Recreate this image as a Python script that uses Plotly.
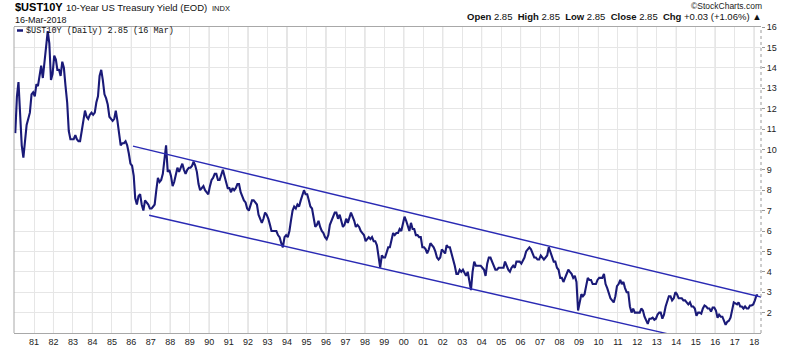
import plotly.graph_objects as go

# 10-Year US Treasury yield (%), monthly readings per calendar year
y1980 = [10.8, 12.6, 13.3, 11.4, 10.2, 9.6, 10.3, 11.2, 11.5, 11.8, 12.7, 12.8]
y1981 = [12.6, 13.2, 13.1, 13.7, 14.1, 13.5, 14.3, 15.0, 15.8, 15.2, 13.4, 13.7]
y1982 = [14.6, 14.4, 13.9, 13.9, 13.6, 14.3, 14.0, 13.1, 12.3, 10.9, 10.5, 10.5]
y1983 = [10.5, 10.7, 10.5, 10.4, 10.4, 10.9, 11.4, 11.9, 11.6, 11.5, 11.7, 11.8]
y1984 = [11.7, 11.8, 12.3, 12.6, 13.6, 13.9, 13.4, 12.7, 12.5, 12.2, 11.6, 11.5]
y1985 = [11.4, 11.5, 11.9, 11.4, 10.8, 10.2, 10.3, 10.3, 10.4, 10.2, 9.8, 9.3]
y1986 = [9.2, 8.7, 7.6, 7.3, 7.7, 7.8, 7.3, 7.0, 7.5, 7.4, 7.3, 7.1]
y1987 = [7.1, 7.2, 7.3, 8.0, 8.6, 8.4, 8.5, 8.8, 9.4, 10.2, 8.9, 9.0]
y1988 = [8.7, 8.2, 8.4, 8.7, 9.1, 8.9, 9.1, 9.3, 9.0, 8.8, 9.0, 9.1]
y1989 = [9.1, 9.2, 9.4, 9.2, 8.9, 8.3, 8.0, 8.1, 8.2, 8.0, 7.9, 7.8]
y1990 = [8.2, 8.5, 8.6, 8.8, 8.8, 8.5, 8.5, 8.8, 9.0, 8.7, 8.4, 8.1]
y1991 = [8.1, 7.9, 8.1, 8.0, 8.1, 8.3, 8.3, 7.9, 7.7, 7.5, 7.4, 7.1]
y1992 = [7.0, 7.3, 7.5, 7.5, 7.4, 7.3, 6.8, 6.6, 6.4, 6.6, 6.9, 6.8]
y1993 = [6.6, 6.3, 6.0, 6.0, 6.0, 6.0, 5.8, 5.7, 5.4, 5.2, 5.7, 5.8]
y1994 = [5.7, 6.0, 6.5, 7.0, 7.2, 7.1, 7.3, 7.2, 7.5, 7.8, 8.0, 7.8]
y1995 = [7.8, 7.5, 7.2, 7.1, 6.6, 6.2, 6.3, 6.5, 6.2, 6.0, 5.9, 5.7]
y1996 = [5.6, 5.8, 6.3, 6.5, 6.7, 6.9, 6.9, 6.6, 6.8, 6.5, 6.2, 6.3]
y1997 = [6.6, 6.4, 6.7, 6.9, 6.7, 6.5, 6.2, 6.3, 6.2, 6.0, 5.9, 5.8]
y1998 = [5.5, 5.6, 5.7, 5.6, 5.7, 5.5, 5.5, 5.3, 4.8, 4.2, 4.8, 4.7]
y1999 = [4.7, 5.0, 5.2, 5.2, 5.5, 5.9, 5.8, 5.9, 5.9, 6.1, 6.0, 6.3]
y2000 = [6.7, 6.5, 6.3, 6.0, 6.4, 6.1, 6.1, 5.8, 5.8, 5.7, 5.7, 5.2]
y2001 = [5.2, 5.1, 4.9, 5.1, 5.4, 5.3, 5.2, 5.0, 4.7, 4.6, 4.7, 5.1]
y2002 = [5.0, 4.9, 5.3, 5.2, 5.2, 4.9, 4.7, 4.3, 3.9, 3.9, 4.1, 4.0]
y2003 = [4.1, 3.9, 3.8, 4.0, 3.6, 3.1, 4.0, 4.5, 4.3, 4.3, 4.3, 4.3]
y2004 = [4.2, 4.1, 3.8, 4.4, 4.7, 4.7, 4.5, 4.3, 4.1, 4.1, 4.2, 4.2]
y2005 = [4.2, 4.2, 4.5, 4.3, 4.1, 4.0, 4.2, 4.3, 4.2, 4.5, 4.5, 4.5]
y2006 = [4.4, 4.6, 4.7, 5.0, 5.1, 5.2, 5.1, 4.9, 4.7, 4.7, 4.6, 4.6]
y2007 = [4.8, 4.7, 4.6, 4.7, 4.8, 5.2, 5.0, 4.7, 4.5, 4.5, 4.2, 4.1]
y2008 = [3.7, 3.7, 3.5, 3.7, 3.9, 4.1, 4.0, 3.9, 3.7, 3.8, 3.5, 2.1]
y2009 = [2.5, 2.9, 2.8, 2.9, 3.3, 3.7, 3.6, 3.6, 3.4, 3.4, 3.4, 3.6]
y2010 = [3.7, 3.7, 3.7, 3.9, 3.4, 3.2, 3.0, 2.7, 2.6, 2.5, 2.8, 3.3]
y2011 = [3.4, 3.6, 3.4, 3.5, 3.2, 3.0, 3.0, 2.3, 2.0, 2.2, 2.0, 2.0]
y2012 = [2.0, 2.0, 2.2, 2.1, 1.8, 1.6, 1.45, 1.7, 1.7, 1.75, 1.65, 1.7]
y2013 = [1.9, 2.0, 2.0, 1.7, 1.9, 2.3, 2.6, 2.8, 2.8, 2.6, 2.7, 3.0]
y2014 = [2.9, 2.7, 2.7, 2.7, 2.6, 2.6, 2.5, 2.4, 2.5, 2.3, 2.3, 2.2]
y2015 = [1.85, 2.0, 2.0, 1.95, 2.2, 2.35, 2.3, 2.2, 2.2, 2.05, 2.25, 2.25]
y2016 = [2.1, 1.75, 1.9, 1.8, 1.8, 1.6, 1.4, 1.55, 1.6, 1.75, 2.15, 2.5]
y2017 = [2.45, 2.4, 2.5, 2.3, 2.3, 2.2, 2.3, 2.2, 2.2, 2.35, 2.35, 2.4]
y2018 = [2.6, 2.85, 2.85]

yields_by_year = {
    1980: y1980, 1981: y1981, 1982: y1982, 1983: y1983, 1984: y1984,
    1985: y1985, 1986: y1986, 1987: y1987, 1988: y1988, 1989: y1989,
    1990: y1990, 1991: y1991, 1992: y1992, 1993: y1993, 1994: y1994,
    1995: y1995, 1996: y1996, 1997: y1997, 1998: y1998, 1999: y1999,
    2000: y2000, 2001: y2001, 2002: y2002, 2003: y2003, 2004: y2004,
    2005: y2005, 2006: y2006, 2007: y2007, 2008: y2008, 2009: y2009,
    2010: y2010, 2011: y2011, 2012: y2012, 2013: y2013, 2014: y2014,
    2015: y2015, 2016: y2016, 2017: y2017, 2018: y2018,
}
last_date = "2018-03-16"

# Declining channel drawn over the series
upper_dates = ["1986-02-01", "2018-08-30"]
upper_vals = [10.16, 2.69]
lower_dates = ["1986-12-01", "2013-07-12"]
lower_vals = [6.77, 0.97]

# Axis ticks
year_ticks = list(range(1981, 2019))
y_ticks = list(range(2, 17))

dates, values = [], []
for year, vals in yields_by_year.items():
    for month, v in enumerate(vals, start=1):
        dates.append(f"{year}-{month:02d}-15")
        values.append(v)
dates[-1] = last_date

LINE = "#1a1a78"
CHANNEL = "#2a2ab4"
FONT = "Liberation Sans, Arial, sans-serif"

fig = go.Figure()
fig.add_trace(go.Scatter(x=dates, y=values, mode="lines",
                         line=dict(color=LINE, width=2.1), showlegend=False))
fig.add_trace(go.Scatter(x=upper_dates, y=upper_vals, mode="lines",
                         line=dict(color=CHANNEL, width=1.4), showlegend=False))
fig.add_trace(go.Scatter(x=lower_dates, y=lower_vals, mode="lines",
                         line=dict(color=CHANNEL, width=1.4), showlegend=False))

L, R, T, B = 14, 28, 27, 14
W, H = 789, 347
pw, ph = W - L - R, H - T - B


def px(x):
    return (x - L) / pw


def py(y):
    return (H - B - y) / ph


# Heavier grid lines on even years
shapes = []
for yr in year_ticks:
    if yr % 2 == 0:
        shapes.append(dict(type="line", xref="x", yref="paper",
                           x0=f"{yr}-01-01", x1=f"{yr}-01-01", y0=0, y1=1,
                           line=dict(color="#c9c9c9", width=1), layer="below"))
# Left frame edge (solid) and price-axis edge (dotted)
shapes.append(dict(type="line", xref="paper", yref="paper", x0=0, x1=0, y0=0, y1=1,
                   line=dict(color="#a8a8a8", width=1)))
shapes.append(dict(type="line", xref="paper", yref="paper", x0=1, x1=1, y0=0, y1=1,
                   line=dict(color="#9a9a9a", width=1, dash="dot")))
# Legend key for the yield line
shapes.append(dict(type="line", xref="paper", yref="paper",
                   x0=px(17), x1=px(23), y0=py(30.5), y1=py(30.5),
                   line=dict(color=LINE, width=2.5)))

annotations = [
    dict(text="<b>$UST10Y</b>", x=px(14), y=py(7), xanchor="left", yanchor="middle",
         font=dict(size=11, family=FONT, color="#000")),
    dict(text="10-Year US Treasury Yield (EOD)", x=px(65), y=py(7.5), xanchor="left",
         yanchor="middle", font=dict(size=9.5, family=FONT, color="#111")),
    dict(text="INDX", x=px(211), y=py(8), xanchor="left", yanchor="middle",
         font=dict(size=7.5, family=FONT, color="#111")),
    dict(text="16-Mar-2018", x=px(14), y=py(19.5), xanchor="left", yanchor="middle",
         font=dict(size=9, family=FONT, color="#111")),
    dict(text="$UST10Y (Daily) 2.85 (16 Mar)",
         x=px(25), y=py(31), xanchor="left", yanchor="middle",
         font=dict(size=8.5, family="Liberation Mono, DejaVu Sans Mono, monospace", color="#111")),
    dict(text="\u00a9StockCharts.com", x=px(763), y=py(5.5), xanchor="right", yanchor="middle",
         font=dict(size=8.5, family=FONT, color="#222")),
    dict(text="<b>Open</b> 2.85  <b>High</b> 2.85  <b>Low</b> 2.85  <b>Close</b> 2.85  "
              "<b>Chg</b> +0.03 (+1.06%) \u25b2",
         x=px(763), y=py(17), xanchor="right", yanchor="middle",
         font=dict(size=9.5, family=FONT, color="#111")),
]
for a in annotations:
    a.update(xref="paper", yref="paper", showarrow=False, borderpad=0)

fig.update_layout(
    width=W, height=H,
    margin=dict(l=L, r=R, t=T, b=B, pad=0),
    paper_bgcolor="white", plot_bgcolor="white",
    shapes=shapes, annotations=annotations,
    xaxis=dict(type="date", range=["1979-12-22", "2018-05-10"],
               tickvals=[f"{yr}-01-01" for yr in year_ticks],
               ticktext=[f"{yr % 100:02d}" for yr in year_ticks],
               showgrid=True, gridcolor="#e6e6e6", gridwidth=1,
               showline=True, mirror=True, linecolor="#a8a8a8", linewidth=1,
               ticks="", tickfont=dict(size=9, family=FONT, color="#222"),
               zeroline=False, automargin=False),
    yaxis=dict(range=[1, 16], side="right", tickvals=y_ticks,
               showgrid=True, gridcolor="#e6e6e6", gridwidth=1,
               showline=False, ticks="outside", ticklen=3, tickcolor="#999",
               tickfont=dict(size=9, family=FONT, color="#222"),
               zeroline=False, automargin=False),
    hovermode=False,
)

fig.write_html("out.html")
